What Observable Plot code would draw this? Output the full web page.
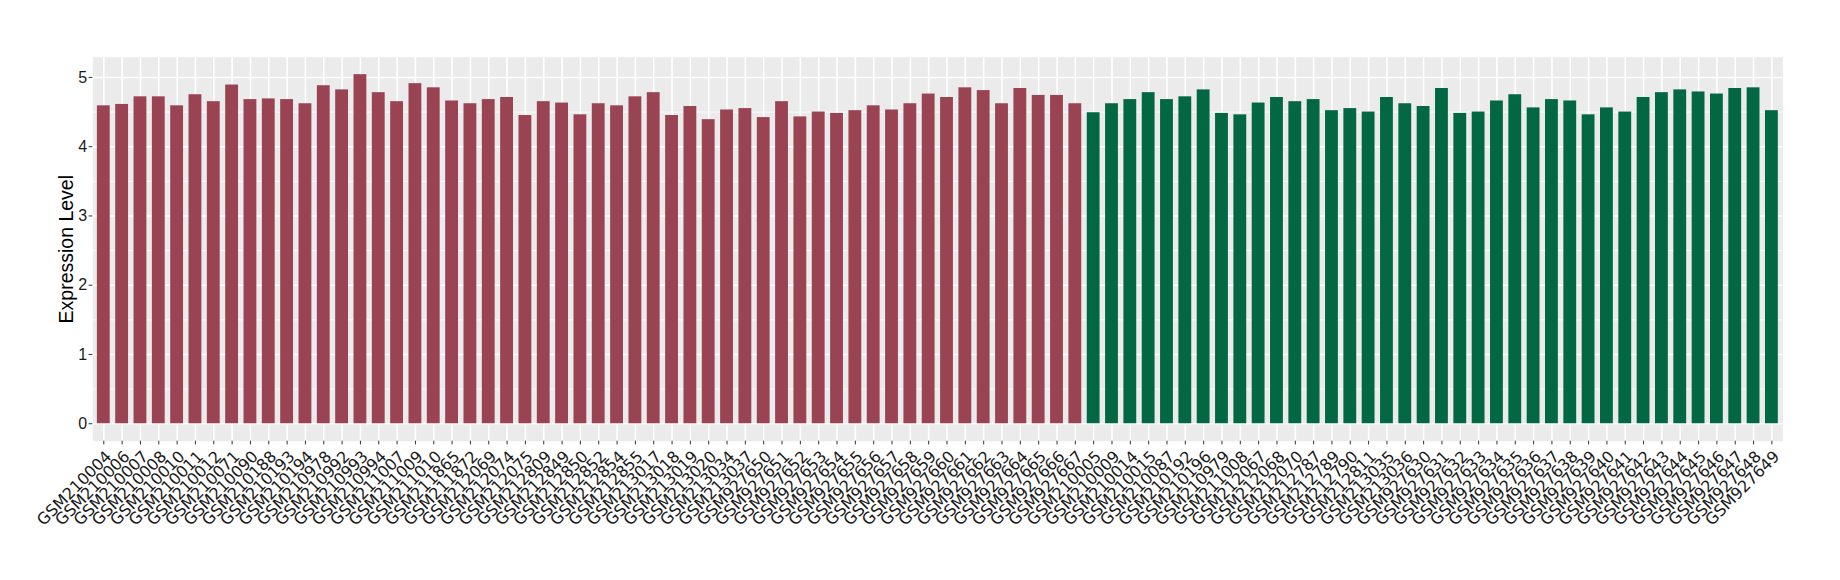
<!DOCTYPE html>
<html>
<head>
<meta charset="utf-8">
<script src="https://cdn.jsdelivr.net/npm/d3@7"></script>
<script src="https://cdn.jsdelivr.net/npm/@observablehq/plot@0.6"></script>
<style>
  html, body { margin: 0; padding: 0; background: #ffffff; }
  #chart { width: 1840px; height: 580px; }
</style>
</head>
<body>
<div id="chart"></div>
<script>
const redSamples = [
  "GSM210004","GSM210006","GSM210007","GSM210008","GSM210010","GSM210011","GSM210012","GSM210071",
  "GSM210090","GSM210188","GSM210193","GSM210194","GSM210978","GSM210992","GSM210993","GSM210994",
  "GSM211007","GSM211009","GSM211010","GSM211865","GSM211872","GSM212069","GSM212074","GSM212075",
  "GSM212809","GSM212849","GSM212850","GSM212852","GSM212854","GSM212855","GSM213017","GSM213018",
  "GSM213019","GSM213020","GSM213034","GSM213037","GSM927650","GSM927651","GSM927652","GSM927653",
  "GSM927654","GSM927655","GSM927656","GSM927657","GSM927658","GSM927659","GSM927660","GSM927661",
  "GSM927662","GSM927663","GSM927664","GSM927665","GSM927666","GSM927667"
];
const redValues = [
  4.59, 4.61, 4.72, 4.72, 4.59, 4.75, 4.65, 4.89,
  4.68, 4.69, 4.68, 4.62, 4.88, 4.82, 5.04, 4.78,
  4.65, 4.91, 4.85, 4.66, 4.62, 4.68, 4.71, 4.45,
  4.65, 4.63, 4.46, 4.62, 4.59, 4.72, 4.78, 4.45,
  4.58, 4.39, 4.53, 4.55, 4.42, 4.65, 4.43, 4.50,
  4.48, 4.52, 4.59, 4.53, 4.62, 4.76, 4.71, 4.85,
  4.81, 4.62, 4.84, 4.74, 4.74, 4.62
];
const greenSamples = [
  "GSM210005","GSM210009","GSM210014","GSM210015","GSM210087","GSM210192","GSM210196","GSM210979",
  "GSM211008","GSM212067","GSM212068","GSM212070","GSM212787","GSM212789","GSM212790","GSM212811",
  "GSM213035","GSM213036","GSM927630","GSM927631","GSM927632","GSM927633","GSM927634","GSM927635",
  "GSM927636","GSM927637","GSM927638","GSM927639","GSM927640","GSM927641","GSM927642","GSM927643",
  "GSM927644","GSM927645","GSM927646","GSM927647","GSM927648","GSM927649"
];
const greenValues = [
  4.49, 4.62, 4.68, 4.78, 4.68, 4.72, 4.82, 4.48,
  4.46, 4.63, 4.71, 4.65, 4.68, 4.52, 4.55, 4.50,
  4.71, 4.62, 4.58, 4.84, 4.48, 4.50, 4.66, 4.75,
  4.56, 4.68, 4.66, 4.46, 4.56, 4.50, 4.71, 4.78,
  4.82, 4.79, 4.76, 4.84, 4.85, 4.52
];
const groupNames = ["group1", "group2"];
const groupColors = ["#9A4352", "#026844"];
const yTicks = [0, 1, 2, 3, 4, 5];
const yMinorTicks = [0.5, 1.5, 2.5, 3.5, 4.5];
const yTitle = "Expression Level";

const data = [
  ...redSamples.map((s, i) => ({sample: s, value: redValues[i], group: groupNames[0]})),
  ...greenSamples.map((s, i) => ({sample: s, value: greenValues[i], group: groupNames[1]}))
];
const samples = data.map(d => d.sample);

const plot = Plot.plot({
  width: 1840,
  height: 580,
  marginLeft: 92.3,
  marginRight: 57.6,
  marginTop: 56.7,
  marginBottom: 139.3,
  style: {background: "#ffffff", fontFamily: "Liberation Sans, Arial, sans-serif"},
  x: {domain: samples, type: "band", paddingInner: 0.3, paddingOuter: 0.25, align: 0.5},
  y: {domain: [-0.252, 5.292]},
  color: {type: "ordinal", domain: groupNames, range: groupColors},
  marks: [
    Plot.frame({fill: "#EBEBEB", stroke: null}),
    Plot.ruleY(yMinorTicks, {stroke: "#ffffff", strokeWidth: 0.8}),
    Plot.ruleY(yTicks, {stroke: "#ffffff", strokeWidth: 1.6}),
    Plot.ruleX(samples, {x: d => d, stroke: "#ffffff", strokeWidth: 1.6}),
    Plot.barY(data, {x: "sample", y1: 0, y2: "value", fill: "group"}),
    Plot.axisY({ticks: yTicks, tickFormat: d3.format("d"), tickSize: 3.7, tickPadding: 2, fontSize: 16, color: "#1a1a1a", stroke: "#333333", label: null}),
    Plot.axisX({tickSize: 3.7, tickFormat: () => "", stroke: "#333333", label: null}),
    Plot.axisX({tickSize: 0, tickPadding: 5.7, tickRotate: -45, fontSize: 16, fontFamily: "DejaVu Sans", color: "#1a1a1a", label: null, dx: 5, dy: 7}),
    Plot.text([yTitle], {frameAnchor: "left", textAnchor: "middle", dx: -26, rotate: -90, fontSize: 19.5, fill: "#000000", fontFamily: "Liberation Sans"})
  ]
});
document.getElementById("chart").appendChild(plot);
</script>
</body>
</html>
